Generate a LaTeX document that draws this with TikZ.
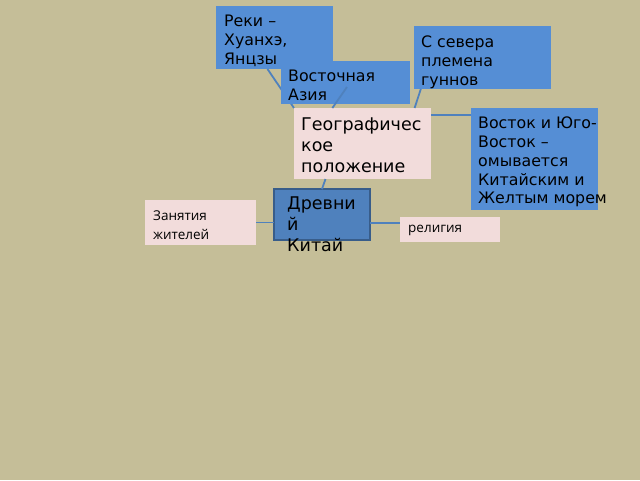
\documentclass[tikz,border=0pt]{standalone}
\usepackage{fontspec}
\setmainfont{DejaVu Sans}
\newfontfamily\smallfont{Open Sans}
\usetikzlibrary{calc}

\definecolor{bgkhaki}{RGB}{197,190,152}
\definecolor{boxblue}{RGB}{85,142,213}
\definecolor{boxpink}{RGB}{242,220,219}
\definecolor{mainblue}{RGB}{79,129,189}
\definecolor{mainborder}{RGB}{56,93,138}
\definecolor{linkblue}{RGB}{79,129,189}

\tikzset{
	box/.style={anchor=north west, inner sep=0pt, outer sep=0pt},
	bluebox/.style={box, fill=boxblue},
	pinkbox/.style={box, fill=boxpink},
	txt/.style={anchor=north west, inner sep=0pt, align=left, font=\fontsize{15.8}{18.7}\selectfont},
	bigtxt/.style={txt, font=\fontsize{17.5}{21}\selectfont},
	smalltxt/.style={txt, font=\smallfont\fontsize{13.5}{18.3}\selectfont},
	link/.style={draw=linkblue, line width=1.8pt},
}

\begin{document}
\begin{tikzpicture}[x=1pt,y=-1pt]
			%%%%% BACKGROUND %%%%%
			\fill[bgkhaki] (0,0) rectangle (640,480);
			\useasboundingbox (0,0) rectangle (640,480);
			
			%%%%% TOP BOXES %%%%%
			\node[bluebox, minimum width=117pt, minimum height=63pt,
				label={[txt, xshift=8pt, yshift=-9pt]north west:{Реки –\\Хуанхэ,\\Янцзы}}] (reki) at (216,6) {};
			\node[bluebox, minimum width=137pt, minimum height=63pt,
				label={[txt, xshift=7pt, yshift=-10pt]north west:{С севера\\племена\\гуннов}}] (sever) at (414,26) {};
			\node[pinkbox, minimum width=137pt, minimum height=71pt,
				label={[bigtxt, xshift=7pt, yshift=-10pt]north west:{Географичес\\кое\\положение}}] (geo) at (294,108) {};
			\node[bluebox, minimum width=127pt, minimum height=102pt,
				label={[txt, xshift=7pt, yshift=-9pt]north west:{Восток и Юго-\\Восток –\\омывается\\Китайским и\\Желтым морем}}] (vostok) at (471,108) {};
			
			\draw[link] ($(reki.south west)!0.44!(reki.south east)$) -- (geo.north west);
			
			\node[bluebox, minimum width=129pt, minimum height=43pt,
				label={[txt, xshift=7pt, yshift=-9pt]north west:{Восточная\\Азия}}] (azia) at (281,61) {};
			\coordinate (aziain) at ($(azia.center)+(1.5,4.5)$);
			\draw[link] (aziain) -- ($(geo.north west)!0.28!(geo.north east)$);
			
			\draw[link] ($(sever.south west)!0.05!(sever.south east)$) -- ($(geo.north west)!0.88!(geo.north east)$);
			\draw[link] ($(geo.north east)!0.1!(geo.south east)$) coordinate (geoeast) -- (geoeast -| vostok.west);
			
			%%%%% CENTRE %%%%%
			\node[box, fill=mainblue, draw=mainborder, line width=1.2pt, minimum width=96pt, minimum height=51pt,
				label={[bigtxt, xshift=13pt, yshift=-8pt]north west:{Древни\\й\\Китай}}] (kitai) at (274,189) {};
			\node[pinkbox, minimum width=111pt, minimum height=45pt,
				label={[smalltxt, xshift=8pt, yshift=-11pt]north west:{Занятия\\жителей}}] (zanyatia) at (145,200) {};
			\node[pinkbox, minimum width=100pt, minimum height=25pt,
				label={[smalltxt, xshift=8pt, yshift=-8pt]north west:{религия}}] (religia) at (400,217) {};
			
			\draw[link] ($(geo.south west)!0.23!(geo.south east)$) -- (kitai.north);
			\draw[link] (zanyatia.east) -- (zanyatia.east -| kitai.west);
			\draw[link] ($(kitai.north east)!0.66!(kitai.south east)$) coordinate (kitaieast) -- (kitaieast -| religia.west);
			
\end{tikzpicture}
\end{document}
